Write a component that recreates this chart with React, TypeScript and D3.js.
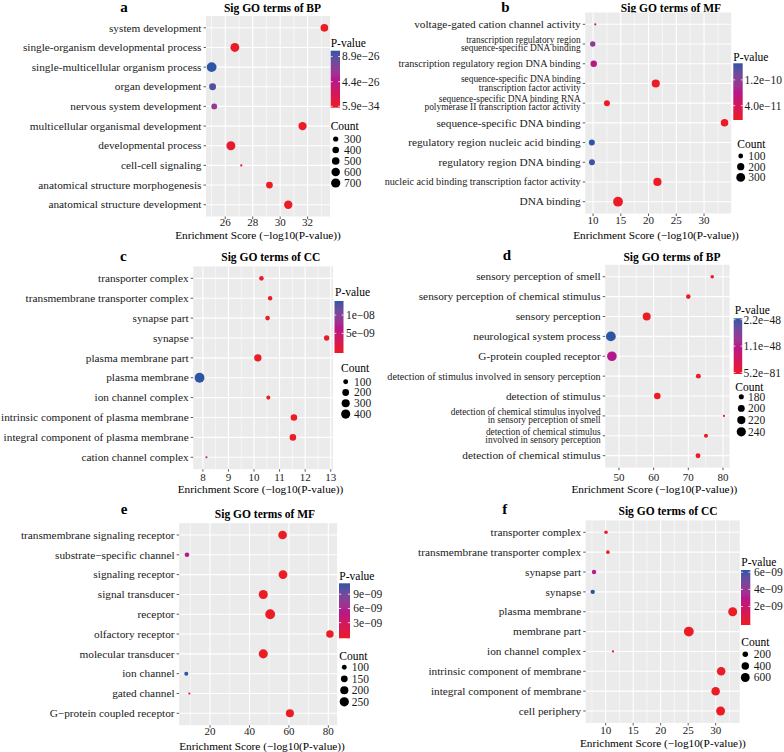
import React from "react";
import * as d3 from "d3";

// ---------------- DATA ----------------
// Panel a : Sig GO terms of BP
const aTerms = ["system development", "single-organism developmental process", "single-multicellular organism process", "organ development", "nervous system development", "multicellular organismal development", "developmental process", "cell-cell signaling", "anatomical structure morphogenesis", "anatomical structure development"];
const aScore = [33.22, 26.7, 25.01, 25.08, 25.2, 31.63, 26.41, 27.17, 29.22, 30.59];
const aCount = [510, 647, 780, 432, 339, 575, 660, 210, 415, 590];
const aPval = [5.9e-34, 2.0e-27, 9.7e-26, 9.0e-26, 6.3e-26, 2.3e-32, 3.9e-27, 6.8e-28, 6.0e-30, 2.6e-31];
const aTicks = [26, 28, 30, 32];
const aCountBreaks = [300, 400, 500, 600, 700];
const aPBreaks = [8.9e-26, 4.4e-26, 5.9e-34];
const aPLabels = ["8.9e\u221226", "4.4e\u221226", "5.9e\u221234"];

// Panel b : Sig GO terms of MF
const bTerms = ["voltage-gated cation channel activity", "transcription regulatory region\nsequence-specific DNA binding", "transcription regulatory region DNA binding", "sequence-specific DNA binding\ntranscription factor activity", "sequence-specific DNA binding RNA\npolymerase II transcription factor activity", "sequence-specific DNA binding", "regulatory region nucleic acid binding", "regulatory region DNA binding", "nucleic acid binding transcription factor activity", "DNA binding"];
const bScore = [10.4, 9.94, 10.12, 21.3, 12.5, 33.7, 9.78, 9.8, 21.6, 14.5];
const bCount = [65, 120, 160, 250, 140, 215, 140, 138, 255, 370];
const bPval = [4.0e-11, 1.15e-10, 7.6e-11, 5.0e-22, 3.2e-13, 2.0e-34, 1.67e-10, 1.6e-10, 2.5e-22, 3.2e-15];
const bTicks = [10, 15, 20, 25, 30];
const bCountBreaks = [100, 200, 300];
const bPBreaks = [1.2e-10, 4.0e-11];
const bPLabels = ["1.2e\u221210", "4.0e\u221211"];

// Panel c : Sig GO terms of CC
const cTerms = ["transporter complex", "transmembrane transporter complex", "synapse part", "synapse", "plasma membrane part", "plasma membrane", "ion channel complex", "intrinsic component of plasma membrane", "integral component of plasma membrane", "cation channel complex"];
const cScore = [10.29, 10.63, 10.53, 12.84, 10.15, 7.87, 10.56, 11.56, 11.52, 8.14];
const cCount = [88, 81, 88, 120, 244, 470, 69, 187, 185, 45];
const cPval = [5.1e-11, 2.3e-11, 3.0e-11, 1.4e-13, 7.1e-11, 1.35e-8, 2.8e-11, 2.8e-12, 3.0e-12, 7.2e-9];
const cTicks = [8, 9, 10, 11, 12, 13];
const cCountBreaks = [100, 200, 300, 400];
const cPBreaks = [1e-8, 5e-9];
const cPLabels = ["1e\u221208", "5e\u221209"];

// Panel d : Sig GO terms of BP
const dTerms = ["sensory perception of smell", "sensory perception of chemical stimulus", "sensory perception", "neurological system process", "G-protein coupled receptor", "detection of stimulus involved in sensory perception", "detection of stimulus", "detection of chemical stimulus involved\nin sensory perception of smell", "detection of chemical stimulus\ninvolved in sensory perception", "detection of chemical stimulus"];
const dScore = [76.9, 70.0, 58.0, 47.66, 47.96, 72.9, 61.06, 80.28, 75.1, 72.8];
const dCount = [171, 176, 217, 252, 248, 179, 196, 168, 173, 179];
const dPval = [1.3e-77, 1.0e-70, 1.0e-58, 2.2e-48, 1.1e-48, 1.3e-73, 8.7e-62, 5.2e-81, 7.9e-76, 1.6e-73];
const dTicks = [50, 60, 70, 80];
const dCountBreaks = [180, 200, 220, 240];
const dPBreaks = [2.2e-48, 1.1e-48, 5.2e-81];
const dPLabels = ["2.2e\u221248", "1.1e\u221248", "5.2e\u221281"];

// Panel e : Sig GO terms of MF
const eTerms = ["transmembrane signaling receptor", "substrate\u2212specific channel", "signaling receptor", "signal transducer", "receptor", "olfactory receptor", "molecular transducer", "ion channel", "gated channel", "G\u2212protein coupled receptor"];
const eScore = [56.8, 8.3, 57.0, 47.0, 50.5, 80.8, 47.0, 7.95, 9.5, 60.5];
const eCount = [224, 96, 226, 243, 280, 173, 245, 87, 75, 197];
const ePval = [1.6e-57, 5.5e-9, 1.0e-57, 1.0e-47, 3.2e-51, 1.6e-81, 1.0e-47, 1.1e-8, 3.2e-10, 3.2e-61];
const eTicks = [20, 40, 60, 80];
const eCountBreaks = [100, 150, 200, 250];
const ePBreaks = [9e-9, 6e-9, 3e-9];
const ePLabels = ["9e\u221209", "6e\u221209", "3e\u221209"];

// Panel f : Sig GO terms of CC
const fTerms = ["transporter complex", "transmembrane transporter complex", "synapse part", "synapse", "plasma membrane", "membrane part", "ion channel complex", "intrinsic component of membrane", "integral component of membrane", "cell periphery"];
const fScore = [10.06, 10.4, 7.88, 7.64, 33.1, 25.12, 11.33, 31.0, 30.0, 30.9];
const fCount = [93, 95, 128, 130, 622, 760, 70, 559, 545, 610];
const fPval = [8.7e-11, 4.0e-11, 3.2e-9, 6.1e-9, 7.9e-34, 7.6e-26, 4.7e-12, 1.0e-31, 1.0e-30, 1.3e-31];
const fTicks = [10, 15, 20, 25, 30];
const fCountBreaks = [200, 400, 600];
const fPBreaks = [6e-9, 4e-9, 2e-9];
const fPLabels = ["6e\u221209", "4e\u221209", "2e\u221209"];

// ---------------- STYLE / LAYOUT ----------------
const FONT = "'Liberation Serif','Times New Roman',Times,serif";
const R0 = 1.1, R1 = 4.9;
const colorRamp = d3
  .scaleLinear<string>()
  .domain([0, 0.5, 1])
  .range(["#EC1C24", "#B3198D", "#2B55A5"])
  .interpolate(d3.interpolateLab);

const panels = [
  {
    id: "a", tag: "a", title: "Sig GO terms of BP",
    terms: aTerms, score: aScore, count: aCount, pval: aPval, ticks: aTicks,
    countBreaks: aCountBreaks, pBreaks: aPBreaks, pLabels: aPLabels,
    L: { x0: 206, x1: 330, y0: 16, y1: 216.5, tagX: 124, tagY: 11.5, titleX: 272.5, titleY: 12, tickY: 226.3, axX: 258, axY: 239,
      pv: { tx: 330.7, ty: 47.3, bx: 330.7, bw: 9.3, b0: 50.7, b1: 107.7, lx: 342 },
      cn: { tx: 330.7, ty: 129.7, kx: 335.7, k0: 139, kd: 11, lx: 344 } },
  },
  {
    id: "b", tag: "b", title: "Sig GO terms of MF",
    terms: bTerms, score: bScore, count: bCount, pval: bPval, ticks: bTicks,
    countBreaks: bCountBreaks, pBreaks: bPBreaks, pLabels: bPLabels,
    L: { x0: 585.2, x1: 731.2, y0: 12.5, y1: 213.5, tagX: 505.3, tagY: 11.7, titleX: 671, titleY: 11.7, tickY: 224, axX: 656, axY: 239,
      pv: { tx: 733.3, ty: 60.7, bx: 733.3, bw: 9.4, b0: 63.3, b1: 120, lx: 744.5 },
      cn: { tx: 737.3, ty: 148, kx: 740.7, k0: 156, kd: 10.7, lx: 748.3 } },
  },
  {
    id: "c", tag: "c", title: "Sig GO terms of CC",
    terms: cTerms, score: cScore, count: cCount, pval: cPval, ticks: cTicks,
    countBreaks: cCountBreaks, pBreaks: cPBreaks, pLabels: cPLabels,
    L: { x0: 193.2, x1: 333, y0: 266.4, y1: 469.2, tagX: 123.3, tagY: 260.5, titleX: 270.8, titleY: 261, tickY: 480.5, axX: 260.5, axY: 493.3,
      pv: { tx: 335, ty: 296.3, bx: 334.5, bw: 9, b0: 301, b1: 353, lx: 346 },
      cn: { tx: 341, ty: 372.3, kx: 345.7, k0: 381.7, kd: 10.8, lx: 354 } },
  },
  {
    id: "d", tag: "d", title: "Sig GO terms of BP",
    terms: dTerms, score: dScore, count: dCount, pval: dPval, ticks: dTicks,
    countBreaks: dCountBreaks, pBreaks: dPBreaks, pLabels: dPLabels,
    L: { x0: 605.2, x1: 729.6, y0: 264.8, y1: 467.6, tagX: 507, tagY: 260, titleX: 672, titleY: 261, tickY: 480.5, axX: 654.3, axY: 493.3,
      pv: { tx: 734.7, ty: 314, bx: 733.7, bw: 8.5, b0: 318.3, b1: 374, lx: 743.5 },
      cn: { tx: 735.3, ty: 390.7, kx: 741.3, k0: 396.7, kd: 11.7, lx: 748 } },
  },
  {
    id: "e", tag: "e", title: "Sig GO terms of MF",
    terms: eTerms, score: eScore, count: eCount, pval: ePval, ticks: eTicks,
    countBreaks: eCountBreaks, pBreaks: ePBreaks, pLabels: ePLabels,
    L: { x0: 179.1, x1: 337.1, y0: 523.1, y1: 725.2, tagX: 124, tagY: 514, titleX: 265, titleY: 517.5, tickY: 734.8, axX: 262, axY: 749.8,
      pv: { tx: 339.3, ty: 579.7, bx: 339, bw: 11, b0: 583.3, b1: 638.3, lx: 353.3 },
      cn: { tx: 339.3, ty: 659.7, kx: 344.3, k0: 667.3, kd: 11.5, lx: 351.7 } },
  },
  {
    id: "f", tag: "f", title: "Sig GO terms of CC",
    terms: fTerms, score: fScore, count: fCount, pval: fPval, ticks: fTicks,
    countBreaks: fCountBreaks, pBreaks: fPBreaks, pLabels: fPLabels,
    L: { x0: 585.7, x1: 739.7, y0: 520.4, y1: 722.9, tagX: 504.7, tagY: 514, titleX: 668, titleY: 515, tickY: 733.8, axX: 662.8, axY: 747.3,
      pv: { tx: 741.3, ty: 565.7, bx: 741, bw: 9.3, b0: 570, b1: 625, lx: 754 },
      cn: { tx: 741.3, ty: 646.3, kx: 745.3, k0: 654.3, kd: 11.6, lx: 753.7 } },
  },
];

function Panel({ p }: { p: any }) {
  const L = p.L;
  const ext = d3.extent(p.score as number[]) as [number, number];
  const pad = (ext[1] - ext[0]) * 0.05;
  const x = d3.scaleLinear().domain([ext[0] - pad, ext[1] + pad]).range([L.x0, L.x1]);
  const y = d3.scalePoint<string>().domain(p.terms).range([L.y0, L.y1]).padding(0.6);
  const cExt = d3.extent(p.count as number[]) as [number, number];
  const cT = d3.scaleLinear().domain(cExt).range([0, 1]);
  const rad = (v: number) => R0 + (R1 - R0) * Math.sqrt(Math.max(0, cT(v)));
  const pExt = d3.extent(p.pval as number[]) as [number, number];
  const pT = d3.scaleLinear().domain(pExt).range([0, 1]).clamp(true);
  const col = (v: number) => colorRamp(pT(v));
  const step = p.ticks[1] - p.ticks[0];
  const [dlo, dhi] = x.domain();
  const minor = d3
    .range(p.ticks.length + 1)
    .map((i) => p.ticks[0] - step / 2 + i * step)
    .filter((v) => v > dlo && v < dhi);
  const pv = L.pv, cn = L.cn;
  const barH = pv.b1 - pv.b0;
  const barPos = (v: number) => pv.b1 - (0.025 + 0.95 * pT(v)) * barH;
  const gid = "grad-" + p.id;
  const stops = d3.range(0, 1.0001, 0.05);
  const textCol = "#1a1a1a";

  return (
    <g>
      <defs>
        <linearGradient id={gid} x1="0" y1="1" x2="0" y2="0">
          {stops.map((s) => (
            <stop key={s} offset={s} stopColor={colorRamp(s)} />
          ))}
        </linearGradient>
      </defs>
      <text x={L.tagX} y={L.tagY} fontSize={15} fontWeight="bold" textAnchor="middle" fontFamily={FONT} fill="#000">{p.tag}</text>
      <text x={L.titleX} y={L.titleY} fontSize={11.5} fontWeight="bold" textAnchor="middle" fontFamily={FONT} fill="#000">{p.title}</text>
      <rect x={L.x0} y={L.y0} width={L.x1 - L.x0} height={L.y1 - L.y0} fill="#EBEBEB" />
      {minor.map((v) => (
        <line key={"mn" + v} x1={x(v)} x2={x(v)} y1={L.y0} y2={L.y1} stroke="#fff" strokeWidth={0.55} />
      ))}
      {p.ticks.map((v: number) => (
        <line key={"mj" + v} x1={x(v)} x2={x(v)} y1={L.y0} y2={L.y1} stroke="#fff" strokeWidth={1.1} />
      ))}
      {p.terms.map((t: string) => (
        <line key={"hy" + t} x1={L.x0} x2={L.x1} y1={y(t)} y2={y(t)} stroke="#fff" strokeWidth={1.1} />
      ))}
      {p.terms.map((t: string, i: number) => (
        <circle key={"pt" + t} cx={x(p.score[i])} cy={y(t)} r={rad(p.count[i])} fill={col(p.pval[i])} />
      ))}
      {p.terms.map((t: string) => {
        const yy = y(t) as number;
        const lines = t.split("\n");
        const tick = <line x1={L.x0 - 2.5} x2={L.x0} y1={yy} y2={yy} stroke="#333" strokeWidth={0.8} />;
        if (lines.length > 1) {
          const fs = 9.4, lh = 8.4;
          return (
            <g key={"yl" + t}>
              {tick}
              {lines.map((ln, j) => (
                <text key={j} x={L.x0 - 4.5} y={yy + (j - (lines.length - 1) / 2) * lh + fs * 0.33} fontSize={fs} textAnchor="end" fontFamily={FONT} fill={textCol}>{ln}</text>
              ))}
            </g>
          );
        }
        const fs = t.length > 40 ? 10.2 : 11.3;
        return (
          <g key={"yl" + t}>
            {tick}
            <text x={L.x0 - 4.5} y={yy + fs * 0.33} fontSize={fs} textAnchor="end" fontFamily={FONT} fill={textCol}>{t}</text>
          </g>
        );
      })}
      {p.ticks.map((v: number) => (
        <g key={"xt" + v}>
          <line x1={x(v)} x2={x(v)} y1={L.y1} y2={L.y1 + 2.5} stroke="#333" strokeWidth={0.8} />
          <text x={x(v)} y={L.tickY} fontSize={11} textAnchor="middle" fontFamily={FONT} fill={textCol}>{v}</text>
        </g>
      ))}
      <text x={L.axX} y={L.axY} fontSize={11.3} textAnchor="middle" fontFamily={FONT} fill="#000">
        {"Enrichment Score (\u2212log10(P-value))"}
      </text>
      <text x={pv.tx} y={pv.ty} fontSize={11.5} fontFamily={FONT} fill="#000">P-value</text>
      <rect x={pv.bx} y={pv.b0} width={pv.bw} height={barH} fill={`url(#${gid})`} />
      {p.pBreaks.map((v: number, i: number) => {
        const yy = barPos(v);
        return (
          <g key={"pb" + i}>
            <line x1={pv.bx} x2={pv.bx + pv.bw * 0.2} y1={yy} y2={yy} stroke="#fff" strokeWidth={0.8} />
            <line x1={pv.bx + pv.bw * 0.8} x2={pv.bx + pv.bw} y1={yy} y2={yy} stroke="#fff" strokeWidth={0.8} />
            <text x={pv.lx} y={yy + 3.9} fontSize={11.5} fontFamily={FONT} fill={textCol}>{p.pLabels[i]}</text>
          </g>
        );
      })}
      <text x={cn.tx} y={cn.ty} fontSize={11.5} fontFamily={FONT} fill="#000">Count</text>
      {p.countBreaks.map((v: number, i: number) => {
        const yy = cn.k0 + i * cn.kd;
        return (
          <g key={"cb" + v}>
            <circle cx={cn.kx} cy={yy} r={rad(v)} fill="#000" />
            <text x={cn.lx} y={yy + 3.9} fontSize={11.5} fontFamily={FONT} fill={textCol}>{v}</text>
          </g>
        );
      })}
    </g>
  );
}

export default function App() {
  return (
    <svg
      width={784}
      height={752}
      viewBox="0 0 784 752"
      style={{ position: "absolute", left: 0, top: 0, display: "block", background: "#fff" }}
    >
      <rect x={0} y={0} width={784} height={752} fill="#fff" />
      {panels.map((p) => (
        <Panel key={p.id} p={p} />
      ))}
    </svg>
  );
}
